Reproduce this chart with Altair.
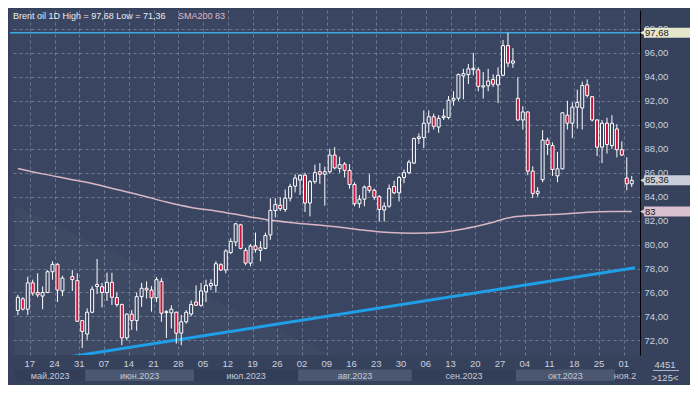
import altair as alt
import pandas as pd

# ---------------- data ----------------
bar_index = list(range(0, 10)) + list(range(11, 125))   # slot 10 (29 May) has no bar
opens = [74.5, 75.47, 74.6, 76.8, 76.0, 75.7, 76.0, 77.73, 78.35, 76.13,
         77.33, 76.99, 73.65, 72.53, 74.35, 76.5, 76.48, 76.0, 76.85, 75.57,
         74.99, 72.21, 74.19, 73.65, 75.65, 76.35, 76.2, 75.55, 76.93, 74.32,
         74.3, 74.35, 72.61, 73.55, 74.2, 75.2, 74.93, 76.05, 76.55, 76.59,
         78.32, 77.87, 79.33, 80.21, 81.65, 79.52, 78.45, 79.89, 79.52, 79.68,
         80.8, 82.85, 83.28, 82.93, 83.87, 84.88, 85.39, 85.79, 83.47, 85.25,
         86.08, 85.87, 86.08, 87.47, 86.35, 86.72, 86.19, 85.01, 83.41, 83.79,
         84.85, 84.53, 84.0, 82.88, 83.2, 84.85, 84.32, 85.6, 86.0, 86.8,
         88.85, 88.93, 90.13, 90.67, 89.81, 90.6, 90.61, 92.05, 92.21, 94.08,
         94.19, 94.6, 94.59, 93.15, 93.25, 93.79, 93.33, 94.13, 96.61, 95.15,
         92.21, 90.4, 91.07, 86.13, 84.27, 85.41, 88.72, 88.27, 85.73, 86.32,
         90.8, 90.13, 91.47, 91.4, 93.33, 92.35, 90.4, 88.13, 90.13, 88.27,
         89.65, 87.92, 85.55, 85.07]
highs = [75.8, 75.6, 77.33, 77.07, 77.6, 76.5, 77.87, 78.6, 78.45, 77.4,
         77.87, 77.6, 73.7, 74.67, 76.53, 78.8, 76.8, 77.65, 77.65, 76.0,
         75.07, 74.27, 74.53, 76.0, 76.8, 76.93, 76.53, 77.28, 77.2, 74.53,
         74.93, 74.4, 74.13, 74.53, 75.33, 76.59, 76.8, 77.07, 77.1, 78.61,
         78.45, 79.6, 80.53, 81.81, 81.73, 79.73, 80.05, 81.0, 80.27, 80.99,
         83.87, 83.87, 83.95, 84.59, 85.07, 85.87, 85.87, 86.0, 85.39, 86.67,
         86.8, 86.5, 88.0, 88.13, 87.33, 86.88, 86.72, 85.2, 84.13, 84.93,
         85.87, 84.67, 84.13, 83.52, 85.01, 85.33, 85.73, 86.27, 87.07, 88.93,
         89.28, 91.2, 91.2, 90.93, 90.8, 91.33, 92.4, 92.8, 94.27, 94.67,
         95.07, 96.0, 94.8, 94.4, 94.67, 94.21, 94.8, 97.07, 97.68, 96.4,
         93.95, 91.55, 91.12, 86.53, 84.8, 89.55, 88.93, 88.53, 87.73, 91.03,
         92.0, 91.87, 92.93, 93.6, 93.79, 92.4, 90.45, 90.4, 90.59, 90.8,
         90.05, 88.61, 87.28, 85.73]
lows = [74.1, 74.5, 74.13, 75.73, 75.6, 74.6, 75.95, 77.07, 75.2, 75.7,
        76.13, 73.55, 71.36, 72.05, 74.27, 75.87, 74.75, 75.3, 74.96, 74.8,
        71.6, 72.0, 72.88, 72.8, 74.8, 75.5, 74.4, 75.2, 73.55, 72.21,
        73.0, 71.73, 71.6, 73.4, 74.0, 74.88, 74.8, 75.2, 76.2, 76.0,
        77.79, 77.6, 79.2, 79.87, 79.6, 78.27, 78.19, 79.33, 78.61, 79.6,
        80.4, 82.27, 82.8, 82.72, 83.6, 84.35, 84.13, 82.72, 82.35, 85.07,
        85.07, 83.25, 85.92, 86.27, 86.0, 85.6, 84.67, 83.2, 83.07, 83.2,
        84.32, 83.73, 81.92, 81.92, 83.07, 84.21, 83.6, 85.12, 85.87, 86.72,
        88.4, 88.05, 89.33, 89.6, 89.33, 90.4, 90.45, 91.6, 92.0, 92.13,
        93.39, 94.13, 92.8, 92.19, 92.8, 93.15, 91.81, 94.05, 94.8, 94.75,
        90.32, 89.6, 85.79, 83.87, 84.0, 85.2, 87.47, 85.73, 85.2, 86.27,
        89.6, 88.88, 89.68, 89.6, 92.27, 90.27, 87.39, 86.8, 87.6, 88.0,
        87.28, 87.39, 84.53, 84.8]
closes = [75.6, 74.61, 76.8, 75.95, 75.8, 76.0, 77.73, 78.35, 76.2, 77.2,
          77.07, 73.6, 72.75, 74.35, 76.27, 76.67, 76.0, 76.85, 75.6, 74.99,
          72.21, 74.19, 73.65, 75.65, 76.35, 76.2, 75.55, 77.07, 74.27, 74.4,
          74.6, 72.59, 73.55, 74.35, 75.0, 74.93, 76.13, 76.59, 76.75, 78.4,
          77.87, 79.47, 80.27, 81.73, 79.68, 78.45, 79.87, 79.57, 79.73, 80.75,
          82.85, 83.33, 82.99, 83.87, 84.85, 85.55, 85.79, 83.47, 85.25, 86.0,
          85.87, 86.08, 87.47, 86.4, 86.67, 86.19, 85.01, 83.41, 83.79, 84.8,
          84.53, 83.95, 82.93, 83.2, 84.67, 84.32, 85.6, 86.0, 86.88, 88.85,
          88.99, 90.13, 90.67, 89.87, 90.53, 90.72, 92.05, 92.21, 94.19, 94.27,
          94.67, 94.72, 93.2, 93.25, 93.65, 93.39, 94.13, 96.61, 95.15, 95.33,
          90.4, 91.07, 86.13, 84.27, 84.45, 88.72, 88.35, 86.27, 86.32, 91.0,
          90.13, 91.47, 91.87, 93.28, 92.45, 90.4, 88.13, 90.13, 88.35, 90.13,
          87.92, 87.47, 85.07, 85.36]

sma_slots = [0, 5, 10, 15, 20, 25, 30, 35, 40, 45, 50, 55, 60, 65, 70, 75, 80,
             85, 90, 95, 100, 105, 110, 115, 120, 124]
sma_values = [86.35, 85.9, 85.5, 85.1, 84.6, 84.1, 83.55, 83.1, 82.8, 82.45,
              82.1, 81.85, 81.65, 81.45, 81.2, 81.0, 80.95, 81.0, 81.3, 81.75,
              82.3, 82.45, 82.55, 82.7, 82.75, 82.75]

trend_slots = [10, 124.66]
trend_values = [70.6, 78.06]

shade_slots = [-0.58, 63.1]
shade_top = [83.26, 70.78]

day_labels = ["17", "24", "31", "07", "14", "21", "28", "05", "12", "19", "26",
              "02", "09", "16", "23", "30", "06", "13", "20", "27", "04", "11",
              "18", "25", "01"]
day_label_bars = [2 + 5 * k for k in range(len(day_labels))]

month_labels = ["май.2023", "июн.2023", "июл.2023", "авг.2023", "сен.2023",
                "окт.2023", "ноя.2"]
month_first_bar = [0, 13, 35, 56, 79, 100, 122]

y_ticks = [72, 74, 76, 78, 80, 82, 84, 86, 88, 90, 92, 94, 96, 98]

# ---------------- layout ----------------
W, H = 630, 345
X_DOM = [-0.58, 124.66]
Y_DOM = [70.78, 99.58]
BG_PLOT = "#3a4661"
BG_PANEL = "#36425c"
GRID = "#6c7994"
TXT = "#c9d1df"
FONT = "Liberation Sans"

xs = alt.Scale(domain=X_DOM, nice=False, zero=False)
ys = alt.Scale(domain=Y_DOM, nice=False, zero=False)

XAX = alt.Axis(values=[b + 0.4 for b in day_label_bars], grid=True,
               gridDash=[3, 3], gridColor=GRID, gridWidth=1,
               labels=False, ticks=False, domain=False, title=None)
YAX = alt.Axis(orient="right", values=y_ticks, grid=True,
               gridDash=[3, 3], gridColor=GRID, gridWidth=1,
               ticks=False, domain=True, domainColor="#000000",
               domainWidth=1, labelPadding=4, labelFontSize=9.5,
               labelColor=TXT, labelFont=FONT, title=None,
               labelOverlap=False, labelBound=False, labelFlush=False,
               labelExpr="replace(format(datum.value, '.2f'), '.', ',')")


def X(field):
    return alt.X(field, scale=xs, axis=XAX)


def Y(field):
    return alt.Y(field, scale=ys, axis=YAX)


df = pd.DataFrame({"slot": bar_index, "open": opens, "high": highs,
                   "low": lows, "close": closes})
df["dir"] = ["up" if c >= o else "down" for o, c in zip(opens, closes)]

shade = alt.Chart(pd.DataFrame({"slot": shade_slots, "top": shade_top,
                                "bot": [Y_DOM[0]] * 2})).mark_area(
    color="white", opacity=0.025).encode(
    x=X("slot:Q"), y=Y("top:Q"), y2="bot:Q")

sma = alt.Chart(pd.DataFrame({"slot": sma_slots, "v": sma_values})).mark_line(
    color="#d9b6c6", strokeWidth=1.5, interpolate="monotone").encode(
    x=X("slot:Q"), y=Y("v:Q"))

trend = alt.Chart(pd.DataFrame({"slot": trend_slots, "v": trend_values})).mark_line(
    color="#1e9fe8", strokeWidth=3, clip=True).encode(
    x=X("slot:Q"), y=Y("v:Q"))

hi_line = alt.Chart(pd.DataFrame({"v": [max(highs)]})).mark_rule(
    color="#3ba8e0", strokeWidth=1.5).encode(y=Y("v:Q"))

wicks = alt.Chart(df).mark_rule(color="white", strokeWidth=1).encode(
    x=X("slot:Q"), y=Y("low:Q"), y2="high:Q")

bodies = alt.Chart(df).mark_bar(width=3, stroke="white", strokeWidth=1).encode(
    x=X("slot:Q"), y=Y("open:Q"), y2="close:Q",
    fill=alt.Fill("dir:N", scale=alt.Scale(domain=["up", "down"],
                                           range=[BG_PLOT, "#c8143c"]),
                  legend=None))


def fmt(v):
    return f"{v:.2f}".replace(".", ",")


tags = pd.DataFrame({
    "v": [max(highs), closes[-1], sma_values[-1]],
    "t": [fmt(max(highs)), fmt(closes[-1]), f"{sma_values[-1]:.0f}"],
    "c": ["#e5e6cc", "#c9ced8", "#d9bfd0"],
})
tag_rect = alt.Chart(tags).mark_rect(yOffset=-5, y2Offset=5).encode(
    x=alt.value(W + 4), x2=alt.value(W + 50),
    y=Y("v:Q"), y2="v:Q",
    color=alt.Color("c:N", scale=None))
tag_arrow = alt.Chart(tags).mark_point(shape="triangle-left", filled=True,
                                       size=45, opacity=1).encode(
    x=alt.value(W + 3), y=Y("v:Q"),
    color=alt.Color("c:N", scale=None))
tag_text = alt.Chart(tags).mark_text(align="left", baseline="middle",
                                     fontSize=9.5, font=FONT,
                                     color="#1b1b22").encode(
    x=alt.value(W + 5), y=Y("v:Q"), text="t:N")

header = alt.Chart(pd.DataFrame({
    "t": [f"Brent oil 1D High = {fmt(max(highs))} Low = {fmt(min(lows))}",
          f"SMA200 {sma_values[-1]:.0f}"],
    "px": [3, 168], "c": ["#e9edf3", "#e3b7c9"]})).mark_text(
    align="left", baseline="middle", fontSize=9, font=FONT).encode(
    x=alt.X("px:Q", scale=None), y=alt.value(6), text="t:N",
    color=alt.Color("c:N", scale=None))

mb_start = [X_DOM[0]] + [b + 0.6 for b in month_first_bar[1:]]
mb_start[-1] = 120.6  # last label is pushed left to fit inside the panel
mb_end = mb_start[1:] + [X_DOM[1]]
months = pd.DataFrame({"s": mb_start, "e": mb_end, "t": month_labels,
                       "c": ["#323e57" if k % 2 == 0 else "#4b566f"
                             for k in range(len(month_labels))]})
months["m"] = (months["s"] + months["e"]) / 2
month_band = alt.Chart(months).mark_rect().encode(
    x=X("s:Q"), x2="e:Q",
    y=alt.value(H + 14.5), y2=alt.value(H + 26),
    color=alt.Color("c:N", scale=None))
month_text = alt.Chart(months).mark_text(
    baseline="middle", fontSize=9, font=FONT, color="#c3cbda").encode(
    x=X("m:Q"), y=alt.value(H + 20.5), text="t:N")

days = pd.DataFrame({"slot": [b + 0.4 for b in day_label_bars], "t": day_labels})
day_text = alt.Chart(days).mark_text(
    baseline="middle", fontSize=9.5, font=FONT, color=TXT).encode(
    x=X("slot:Q"), y=alt.value(H + 9), text="t:N")

corner = alt.Chart(pd.DataFrame({"t": ["4451", ">125<"], "py": [H + 10, H + 22.5]})).mark_text(
    baseline="middle", fontSize=9.5, font=FONT, color=TXT).encode(
    x=alt.value(W + 25), y=alt.Y("py:Q", scale=None), text="t:N")
corner_rule = alt.Chart(pd.DataFrame({"a": [0]})).mark_rule(
    color=TXT, strokeWidth=0.8).encode(
    x=alt.value(W + 13), x2=alt.value(W + 39), y=alt.value(H + 15.5))

chart = alt.layer(
    shade, sma, trend, hi_line, wicks, bodies,
    month_band, month_text, day_text, corner, corner_rule,
    tag_rect, tag_arrow, tag_text, header,
).properties(
    width=W, height=H,
    autosize=alt.AutoSizeParams(type="none"),
    padding={"left": 2, "top": 2, "right": 50, "bottom": 30},
    background=BG_PANEL,
).configure_view(fill=BG_PLOT, stroke=None)

chart.save("out.html", embed_options={"renderer": "svg", "actions": False})
